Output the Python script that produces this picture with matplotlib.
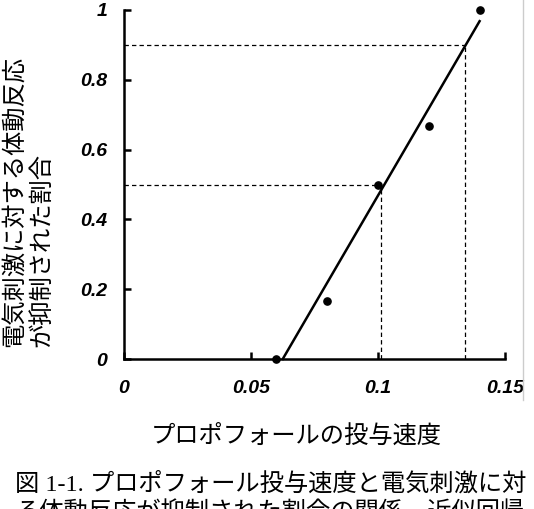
import matplotlib
matplotlib.use("Agg")
import matplotlib.pyplot as plt
from matplotlib.lines import Line2D

plt.rcParams['font.family'] = ['Noto Sans CJK JP', 'DejaVu Sans']

# 投与速度と抑制割合
dose = [0.06, 0.08, 0.10, 0.12, 0.14]
ratio = [0.0, 0.167, 0.5, 0.667, 1.0]

# 近似直線の両端
fit_x = [0.0625, 0.14]
fit_y = [0.0, 0.968]

# 50% / 90% の読み取り線
ref_y = [0.5, 0.9]
ref_x = [0.101, 0.1343]

xticks = [0, 0.05, 0.1, 0.15]
xlabels = ['0', '0.05', '0.1', '0.15']
yticks = [0, 0.2, 0.4, 0.6, 0.8, 1.0]
ylabels = ['0', '0.2', '0.4', '0.6', '0.8', '1']

W, H = 534, 509
fig = plt.figure(figsize=(W / 100, H / 100), dpi=100)
ax = fig.add_axes([124 / W, 150 / H, 381 / W, 349 / H])

for xr, yr in zip(ref_x, ref_y):
    ax.plot([0, xr], [yr, yr], color='black', lw=0.9, ls=(0, (3.5, 2.5)))
    ax.plot([xr, xr], [0, yr], color='black', lw=0.9, ls=(0, (3.5, 2.5)))

ax.plot(fit_x, fit_y, color='black', lw=1.8, clip_on=False)
ax.plot(dose, ratio, 'o', color='black', ms=5.2, clip_on=False, zorder=5)

ax.set_xlim(0, 0.15)
ax.set_ylim(0, 1)
ax.spines['top'].set_visible(False)
ax.spines['right'].set_visible(False)
for s in ['left', 'bottom']:
    ax.spines[s].set_linewidth(1.8)

tick_font = dict(family='Liberation Sans', weight='bold', style='italic', size=14)
ax.set_xticks(xticks)
ax.set_xticklabels(xlabels, fontdict=tick_font)
ax.set_yticks(yticks)
ax.set_yticklabels(ylabels, fontdict=tick_font)
ax.tick_params(direction='in', length=5, width=1.8)
ax.tick_params(axis='x', pad=15)
ax.tick_params(axis='y', pad=12)

fig.text(0.052, (H - 347) / H, '電気刺激に対する体動反応\nが抑制された割合',
         rotation=90, ha='center', va='bottom', multialignment='left',
         fontsize=17.5, linespacing=1.05)
fig.text(296 / W, (H - 436) / H, 'プロポフォールの投与速度',
         ha='center', va='center', fontsize=17.5)
fig.text(15 / W, (H - 472) / H,
         '図 1-1. プロポフォール投与速度と電気刺激に対\nる体動反応が抑制された割合の関係。近似回帰',
         ha='left', va='top', fontsize=17.5, linespacing=1.3,
         family=['Liberation Serif', 'Noto Sans CJK JP'])

# 右端の枠線
fig.add_artist(Line2D([523 / W, 523 / W], [1, (H - 400) / H],
                      transform=fig.transFigure, color='#cccccc', lw=1))

fig.savefig('out.png', dpi=100)
